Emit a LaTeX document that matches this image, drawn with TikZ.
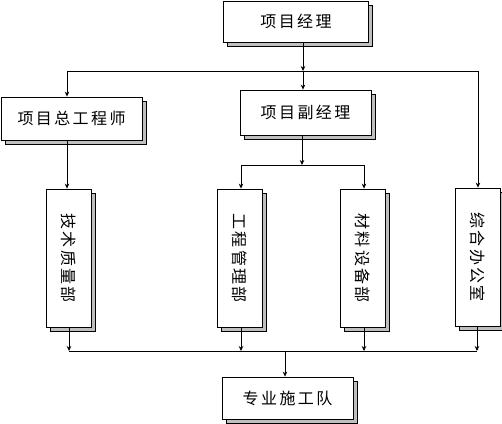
\documentclass[tikz,border=0pt]{standalone}
\usepackage{fontspec}
\newfontfamily\cjk[LetterSpace=15]{Noto Sans CJK SC}
\usetikzlibrary{shadows,arrows.meta}
\begin{document}
\begin{tikzpicture}[x=1pt,y=-1pt,
  box/.style={draw=black, line width=0.8pt, fill=white, inner sep=0pt,
    drop shadow={shadow xshift=4pt, shadow yshift=-4pt, fill=black!25, draw=black, line width=0.8pt, opacity=1},
    font=\cjk\fontsize{16}{16}\selectfont},
  vbox/.style={box, minimum width=45pt, minimum height=138pt},
  vtext/.style={rotate=-90, inner sep=0pt, font=\cjk\fontsize{16}{16}\selectfont},
  arr/.style={line width=0.8pt, -{Stealth[length=5pt,width=4.5pt]}},
  ln/.style={line width=0.8pt}]
\useasboundingbox (0,0) rectangle (502,423);
\fill[white] (0,0) rectangle (502,423);

\node[box, minimum width=145pt, minimum height=41pt] (pm) at (296,21.5) {项目经理};
\node[box, minimum width=141pt, minimum height=43pt] (ce) at (71.5,118.5) {项目总工程师};
\node[box, minimum width=131pt, minimum height=45pt] (dpm) at (305.5,112.5) {项目副经理};

\node[vbox] (tq) at (68.5,258) {};
\node[vtext] (tqt) at (tq) {技术质量部};
\node[vbox] (gc) at (240,258) {};
\node[vtext] (gct) at (gc) {工程管理部};
\node[vbox] (cl) at (362.5,258) {};
\node[vtext] (clt) at (cl) {材料设备部};
\node[vbox] (zh) at (477.5,257) {};
\node[vtext] (zht) at (zh) {综合办公室};

\node[box, minimum width=131pt, minimum height=42pt] (team) at (287.5,398) {专业施工队};

% top bus
\coordinate (j1) at (303,71);
\coordinate (jl) at (67,71);
\coordinate (jr) at (478,71);
\draw[ln] (jl) -- (jr);
\draw[arr] (pm.south -| j1) -- (j1);
\draw[arr] (jl) -- (jl |- ce.north);
\draw[arr] (j1) -- (j1 |- dpm.north);
\draw[arr] (jr) -- (jr |- zh.north);
\draw[arr] (ce.south -| jl) -- (tq.north -| jl);

% second bus
\coordinate (j2) at (302,165);
\coordinate (ml) at (241,165);
\coordinate (mr) at (364,165);
\draw[arr] (dpm.south -| j2) -- (j2);
\draw[ln] (ml) -- (mr);
\draw[arr] (ml) -- (ml |- gc.north);
\draw[arr] (mr) -- (mr |- cl.north);

% bottom bus
\coordinate (b1) at (69,351);
\coordinate (b2) at (241,351);
\coordinate (b3) at (364,351);
\coordinate (b4) at (477,351);
\coordinate (bm) at (285,351);
\draw[ln] (b1) -- (b4);
\draw[arr] (tq.south -| b1) -- (b1);
\draw[arr] (gc.south -| b2) -- (b2);
\draw[arr] (cl.south -| b3) -- (b3);
\draw[arr] (zh.south -| b4) -- (b4);
\draw[arr] (bm) -- (bm |- team.north);
\end{tikzpicture}
\end{document}
